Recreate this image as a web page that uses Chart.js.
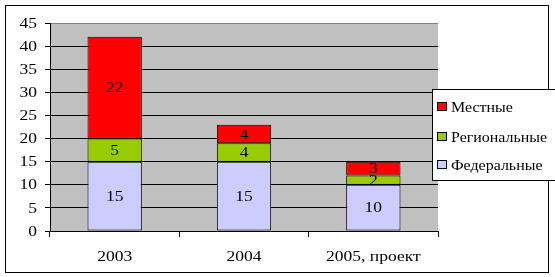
<!DOCTYPE html>
<html>
<head>
<meta charset="utf-8">
<script src="https://cdn.jsdelivr.net/npm/chart.js@4"></script>
<style>
  body { margin: 0; background: #fff; }
</style>
</head>
<body>
<canvas id="bar-chart" width="555" height="277"></canvas>
<script>
const years = ['2003', '2004', '2005, проект']
const federal = [15, 15, 10]
const regional = [5, 4, 2]
const local = [22, 4, 3]
const seriesNames = ['Федеральные', 'Региональные', 'Местные']

const font = "14px 'Liberation Serif', 'Times New Roman', serif"

// the original text is a bit stretched sideways
const wideText = function (ctx, text, x, y, align, stretch = 1.25) {
  ctx.save()
  ctx.translate(x, y)
  ctx.scale(stretch, 1)
  ctx.font = font
  ctx.fillStyle = '#000'
  ctx.textAlign = align
  ctx.textBaseline = 'middle'
  ctx.fillText(text, 0, 0)
  ctx.restore()
}

// grey plot area, like the old office charts
const plotBg = {
  id: 'plotBg',
  beforeDraw (chart) {
    const { ctx, chartArea: a } = chart
    ctx.save()
    ctx.fillStyle = '#c0c0c0'
    ctx.fillRect(a.left, a.top, a.right - a.left, a.bottom - a.top)
    ctx.restore()
  }
}

// numbers in each segment + axis labels drawn by hand (stretched)
const texts = {
  id: 'texts',
  afterDatasetsDraw (chart) {
    const ctx = chart.ctx
    chart.data.datasets.forEach((ds, i) => {
      chart.getDatasetMeta(i).data.forEach((bar, j) => {
        wideText(ctx, String(ds.data[j]), bar.x, (bar.y + bar.base) / 2 + 1, 'center')
      })
    })
    const ys = chart.scales.y
    ys.ticks.forEach(t => {
      wideText(ctx, String(t.value), 37, ys.getPixelForValue(t.value) + 1, 'right')
    })
    const xs = chart.scales.x
    chart.data.labels.forEach((lab, i) => {
      wideText(ctx, lab, xs.getPixelForValue(i), 257, 'center')
    })
  }
}

// outer frame + legend box overlapping the plot
const frameLegend = {
  id: 'frameLegend',
  afterDraw (chart) {
    const ctx = chart.ctx
    ctx.save()
    ctx.strokeStyle = '#000'
    ctx.lineWidth = 1
    ctx.strokeRect(5.5, 5.5, 543, 267)

    ctx.fillStyle = '#fff'
    ctx.fillRect(432, 89, 130, 91)
    ctx.strokeRect(432.5, 89.5, 130, 91)

    const rows = [107, 137, 165]
    const order = [2, 1, 0]
    order.forEach((di, k) => {
      const ds = chart.data.datasets[di]
      const y = rows[k]
      ctx.fillStyle = ds.backgroundColor
      ctx.fillRect(437.5, y - 4.5, 9, 8)
      ctx.strokeStyle = '#000'
      ctx.strokeRect(437.5, y - 4.5, 9, 8)
      wideText(ctx, ds.label, 451, y + 1, 'left', 1.14)
    })
    ctx.restore()
  }
}

const barData = {
  labels: years,
  datasets: [
    { label: seriesNames[0], data: federal, backgroundColor: '#ccccff' },
    { label: seriesNames[1], data: regional, backgroundColor: '#99cc00' },
    { label: seriesNames[2], data: local, backgroundColor: '#ff0000' }
  ]
}

const barChart = new Chart(document.getElementById('bar-chart'), {
  type: 'bar',
  data: barData,
  plugins: [plotBg, texts, frameLegend],
  options: {
    responsive: false,
    animation: false,
    devicePixelRatio: 1,
    layout: { padding: { top: 23, right: 117, left: 5, bottom: 5 } },
    datasets: {
      bar: {
        borderColor: '#000',
        borderWidth: 1,
        borderSkipped: false,
        categoryPercentage: 1,
        barPercentage: 0.42
      }
    },
    plugins: {
      legend: { display: false },
      tooltip: { enabled: false }
    },
    scales: {
      x: {
        stacked: true,
        afterFit: s => { s.height = 41 },
        grid: {
          offset: true,
          drawOnChartArea: false,
          drawTicks: true,
          tickLength: 6,
          color: '#000'
        },
        border: { color: '#000' },
        ticks: { color: 'rgba(0,0,0,0)', font: { size: 14 } }
      },
      y: {
        stacked: true,
        min: 0,
        max: 45,
        afterFit: s => { s.width = 45 },
        grid: {
          color: c => (c.tick && c.tick.value === 45 ? '#808080' : '#000'),
          tickColor: '#000',
          tickLength: 5
        },
        border: { color: '#000' },
        ticks: { stepSize: 5, color: 'rgba(0,0,0,0)', font: { size: 14 } }
      }
    }
  }
})
</script>
</body>
</html>
